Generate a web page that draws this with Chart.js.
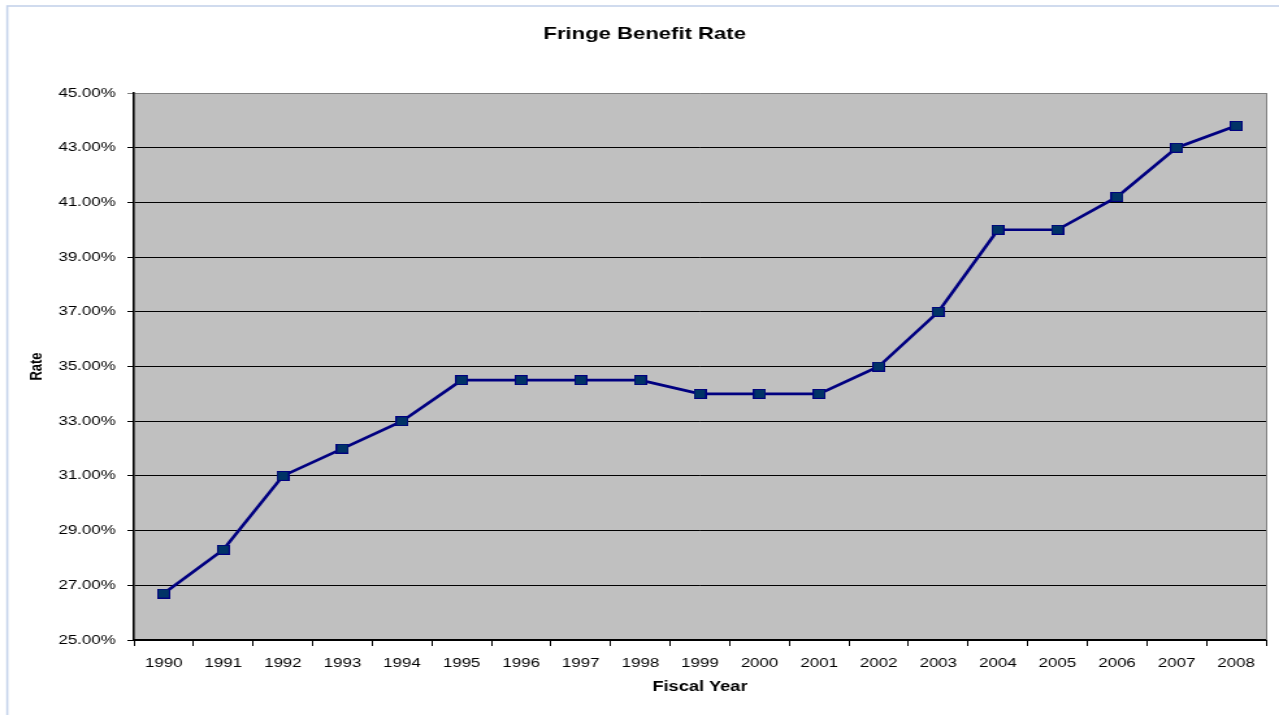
<!DOCTYPE html>
<html>
<head>
<meta charset="utf-8">
<script src="https://cdn.jsdelivr.net/npm/chart.js@4.4.1/dist/chart.umd.min.js"></script>
<style>
  html, body { margin: 0; padding: 0; background: #fff; overflow: hidden; }
  #wrap { width: 1279px; height: 715px; overflow: hidden; }
  /* the original picture is a horizontally stretched export */
  #rate-chart { transform-origin: 0 0; transform: scaleX(1.29980); }
</style>
</head>
<body>
<div id="wrap"><canvas id="rate-chart" width="984" height="715"></canvas></div>
<script>
const years = ['1990', '1991', '1992', '1993', '1994', '1995', '1996', '1997', '1998', '1999',
  '2000', '2001', '2002', '2003', '2004', '2005', '2006', '2007', '2008'];
const rates = [26.7, 28.3, 31.0, 32.0, 33.0, 34.5, 34.5, 34.5, 34.5, 34.0,
  34.0, 34.0, 35.0, 37.0, 40.0, 40.0, 41.2, 43.0, 43.8];
const yMin = 25;
const yMax = 45;
const yStep = 2;

const fontFamily = '"Liberation Sans", Arial, sans-serif';

// marker: dark blue square with navy edge
function makeMarker() {
  const c = document.createElement('canvas');
  c.width = 10;
  c.height = 10;
  const g = c.getContext('2d');
  g.fillStyle = '#000080';
  g.fillRect(0, 0, 10, 10);
  g.fillStyle = '#003366';
  g.fillRect(1, 1, 8, 8);
  return c;
}

// frame, plot background, title
const decorPlugin = {
  id: 'decor',
  beforeDraw(chart) {
    const { ctx, chartArea } = chart;
    ctx.save();
    ctx.strokeStyle = '#c5d3ea';
    ctx.lineWidth = 1.6;
    ctx.strokeRect(5.6, 6, 1000, 720);
    ctx.fillStyle = '#c0c0c0';
    ctx.fillRect(chartArea.left, chartArea.top, chartArea.right - chartArea.left, chartArea.bottom - chartArea.top);
    ctx.restore();
  },
  afterDraw(chart) {
    const { ctx, chartArea } = chart;
    ctx.save();
    ctx.strokeStyle = '#808080';
    ctx.lineWidth = 1;
    ctx.beginPath();
    ctx.moveTo(chartArea.right + 0.5, chartArea.top);
    ctx.lineTo(chartArea.right + 0.5, chartArea.bottom);
    ctx.stroke();
    ctx.fillStyle = '#000';
    ctx.font = 'bold 17px ' + fontFamily;
    ctx.textAlign = 'center';
    ctx.textBaseline = 'middle';
    ctx.fillText('Fringe Benefit Rate', 496, 34);
    ctx.restore();
  }
};

new Chart(document.getElementById('rate-chart').getContext('2d'), {
  type: 'line',
  data: {
    labels: years,
    datasets: [{
      label: 'Rate',
      data: rates,
      borderColor: '#000080',
      borderWidth: 2.7,
      backgroundColor: '#003366',
      pointStyle: makeMarker(),
      pointRadius: 5,
      tension: 0,
      fill: false
    }]
  },
  options: {
    responsive: false,
    animation: false,
    devicePixelRatio: 1,
    layout: { padding: { top: 93, left: 21, right: 10, bottom: 19 } },
    plugins: {
      legend: { display: false },
      tooltip: { enabled: false }
    },
    scales: {
      x: {
        offset: true,
        grid: {
          offset: true,
          drawOnChartArea: false,
          drawTicks: true,
          tickLength: 6,
          color: '#000'
        },
        border: { color: '#000', width: 2 },
        ticks: {
          color: '#000',
          font: { family: fontFamily, size: 13 },
          padding: 10,
          maxRotation: 0
        },
        title: {
          display: true,
          text: 'Fiscal Year',
          color: '#000',
          font: { family: fontFamily, size: 14, weight: 'bold' },
          padding: { top: 0, bottom: 0 }
        },
        afterFit(scale) { scale.height = 56; }
      },
      y: {
        min: yMin,
        max: yMax,
        grid: {
          color: ctx => (ctx.tick && ctx.tick.value === yMax ? '#808080' : '#000'),
          lineWidth: 1,
          tickLength: 5,
          drawTicks: true
        },
        border: { color: '#000', width: 1.6 },
        ticks: {
          stepSize: yStep,
          color: '#000',
          font: { family: fontFamily, size: 13 },
          padding: 9,
          callback: v => v.toFixed(2) + '%'
        },
        title: {
          display: true,
          text: 'Rate',
          color: '#000',
          font: { family: fontFamily, size: 13, weight: 'bold' },
          padding: 0
        },
        afterFit(scale) { scale.width = 82; }
      }
    }
  },
  plugins: [decorPlugin]
});
</script>
</body>
</html>
